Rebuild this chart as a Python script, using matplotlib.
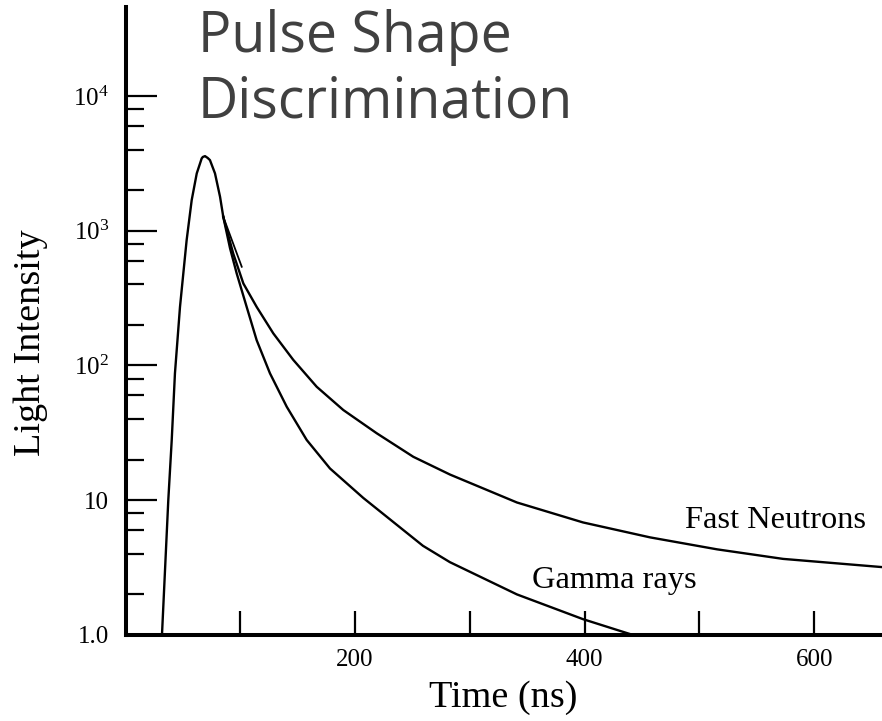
import matplotlib
matplotlib.use("Agg")
import matplotlib.pyplot as plt
from matplotlib.ticker import FixedLocator, FixedFormatter, NullFormatter

# values (time in ns, light intensity)
rise_t = [31.7, 37.2, 40.2, 43.0, 47.4, 50.3, 53.2, 57.6, 62.0, 66.3, 67.3, 69.2, 71.5, 73.5,
          77.9, 82.3, 85.1]
rise_i = [1.0, 10.0, 28.0, 87.4, 272, 482, 852, 1687, 2661, 3438, 3524, 3575, 3467, 3341,
          2661, 1785, 1268]

gamma_t = [85.1, 91.0, 96.8, 105.5, 114.2, 125.8, 140.4, 157.8, 178.1, 207.1, 259.1, 282.6,
           341.0, 398.6, 442.1]
gamma_i = [1268, 741, 482, 272, 154, 87.4, 49.4, 28.0, 17.2, 10.4, 4.59, 3.47,
           2.00, 1.31, 1.0]

neutron_t = [85.1, 93.8, 102.6, 114.2, 128.7, 146.1, 166.5, 189.7, 218.8, 250.7, 282.7,
             341.0, 398.6, 457.0, 515.4, 572.9, 659.1]
neutron_i = [1268, 676, 406, 272, 173, 110, 69.5, 46.7, 31.4, 21.0, 15.5,
             9.62, 6.84, 5.30, 4.32, 3.67, 3.19]

stub_t = [85.1, 101.2]
stub_i = [1268, 540]

x_ticks = [100, 200, 300, 400, 500, 600]
x_labels = ["", "200", "", "400", "", "600"]
y_ticks = [1, 10, 100, 1000, 10000]
y_labels = ["1.0", "10", r"$10^2$", r"$10^3$", r"$10^4$"]
y_minor = [m * 10 ** k for k in range(4) for m in (2, 4, 6, 8)]

plt.rcParams["font.family"] = ["Liberation Serif", "DejaVu Serif"]
plt.rcParams["mathtext.default"] = "regular"

fig = plt.figure(figsize=(8.82, 7.21), dpi=100)
ax = fig.add_axes([0.1424, 0.1193, 0.8576, 0.871])

lw = 1.7
ax.plot(rise_t, rise_i, color="black", lw=lw, solid_joinstyle="round")
ax.plot(gamma_t, gamma_i, color="black", lw=lw, solid_joinstyle="round")
ax.plot(neutron_t, neutron_i, color="black", lw=lw, solid_joinstyle="round")
ax.plot(stub_t, stub_i, color="black", lw=1.3)

ax.set_yscale("log")
ax.set_xlim(0, 659.1)
ax.set_ylim(1.0, 45700)

ax.spines["top"].set_visible(False)
ax.spines["right"].set_visible(False)
ax.spines["left"].set_linewidth(2.9)
ax.spines["bottom"].set_linewidth(2.9)

ax.xaxis.set_major_locator(FixedLocator(x_ticks))
ax.xaxis.set_major_formatter(FixedFormatter(x_labels))
ax.yaxis.set_major_locator(FixedLocator(y_ticks))
ax.yaxis.set_major_formatter(FixedFormatter(y_labels))
ax.yaxis.set_minor_locator(FixedLocator(y_minor))
ax.yaxis.set_minor_formatter(NullFormatter())

ax.tick_params(axis="x", which="major", direction="in", length=17, width=1.6, labelsize=18, pad=10)
ax.tick_params(axis="y", which="major", direction="in", length=22, width=1.6, labelsize=18, pad=12)
ax.tick_params(axis="y", which="minor", direction="in", length=13, width=1.6)

ax.set_xlabel("Time (ns)", fontsize=27.5)
ax.set_ylabel("Light Intensity", fontsize=27.5)
ax.xaxis.set_label_coords(0.499, -0.073)
ax.yaxis.set_label_coords(-0.1026, 0.466)

ax.text(487.5, 6.22, "Fast Neutrons", fontsize=23.3, ha="left", va="baseline")
ax.text(354.1, 2.23, "Gamma rays", fontsize=23.3, ha="left", va="baseline")

fig.text(0.2245, 1 - 52 / 721, "Pulse Shape", fontsize=40, family="Open Sans",
         color="#404040", ha="left", va="baseline")
fig.text(0.2245, 1 - 117 / 721, "Discrimination", fontsize=40, family="Open Sans",
         color="#404040", ha="left", va="baseline")

fig.savefig("out.png", dpi=100)
